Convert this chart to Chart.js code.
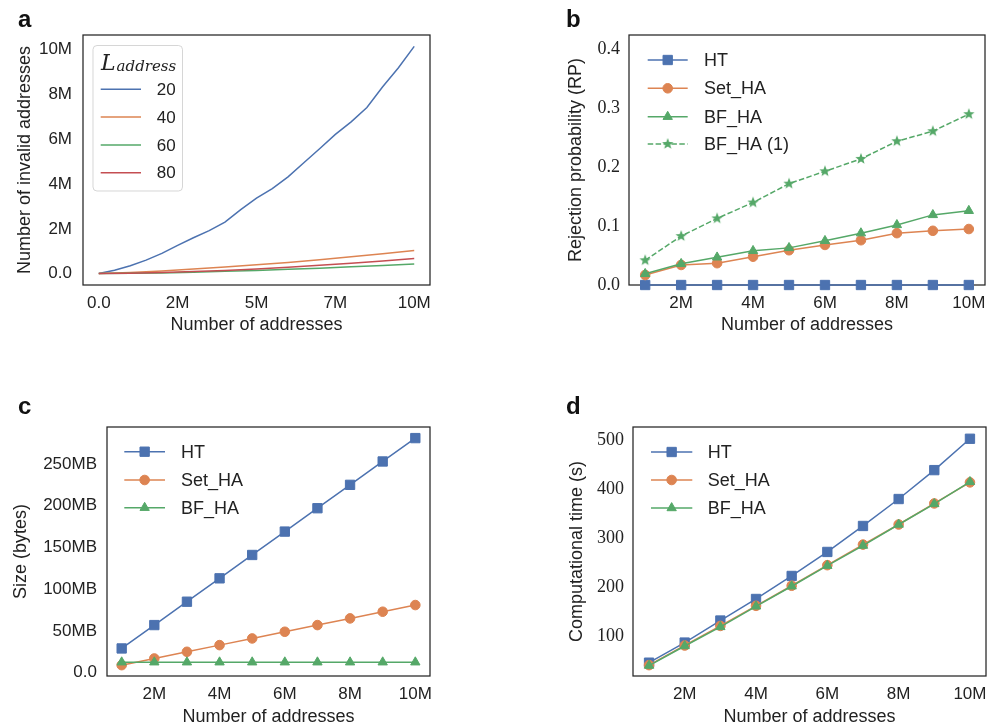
<!DOCTYPE html>
<html>
<head>
<meta charset="utf-8">
<script src="https://cdn.jsdelivr.net/npm/chart.js@4.4.1/dist/chart.umd.min.js"></script>
<style>
body { margin: 0; background: #fff; }
#wrap { position: relative; width: 998px; height: 728px; }
canvas { position: absolute; }
.tag { position: absolute; font: bold 24px "Liberation Sans", Arial, sans-serif; line-height: 24px; color: #111; }
</style>
</head>
<body>
<div id="wrap">
  <canvas id="pa" width="499" height="364" style="left:0;top:0"></canvas>
  <canvas id="pb" width="499" height="364" style="left:499px;top:0"></canvas>
  <canvas id="pc" width="499" height="364" style="left:0;top:364px"></canvas>
  <canvas id="pd" width="499" height="364" style="left:499px;top:364px"></canvas>
  <div class="tag" style="left:18px;top:7px">a</div>
  <div class="tag" style="left:566px;top:7px">b</div>
  <div class="tag" style="left:18px;top:394px">c</div>
  <div class="tag" style="left:566px;top:394px">d</div>
</div>
<script>
// panel a: invalid addresses (millions) vs number of addresses (millions)
var aX20 = [0, 0.5, 1, 1.5, 2, 2.5, 3, 3.5, 4, 4.5, 5, 5.5, 6, 6.5, 7, 7.5, 8, 8.5, 9, 9.5, 10];
var aL20 = [0, 0.15, 0.35, 0.6, 0.9, 1.26, 1.6, 1.92, 2.3, 2.86, 3.37, 3.8, 4.32, 4.95, 5.58, 6.22, 6.78, 7.42, 8.35, 9.2, 10.15];
var aX = [0, 1, 2, 3, 4, 5, 6, 7, 8, 9, 10];
var aL40 = [0, 0.05, 0.12, 0.2, 0.29, 0.39, 0.5, 0.62, 0.75, 0.89, 1.03];
var aL60 = [0, 0.01, 0.03, 0.06, 0.1, 0.14, 0.19, 0.24, 0.3, 0.36, 0.43];
var aL80 = [0, 0.02, 0.05, 0.09, 0.14, 0.21, 0.28, 0.37, 0.46, 0.56, 0.67];

// panels b-d share the x values (millions of addresses)
var addrM = [1, 2, 3, 4, 5, 6, 7, 8, 9, 10];

// panel b: rejection probability
var rpHT  = [0, 0, 0, 0, 0, 0, 0, 0, 0, 0];
var rpSet = [0.017, 0.034, 0.037, 0.048, 0.059, 0.068, 0.076, 0.088, 0.092, 0.095];
var rpBF  = [0.019, 0.036, 0.047, 0.058, 0.063, 0.075, 0.088, 0.102, 0.119, 0.126];
var rpBF1 = [0.042, 0.083, 0.113, 0.140, 0.172, 0.193, 0.214, 0.244, 0.261, 0.290];

// panel c: size in MB
var sizeHT  = [29, 57, 85, 113, 141, 169, 197, 225, 253, 281];
var sizeSet = [9, 17, 25, 33, 41, 49, 57, 65, 73, 81];
var sizeBF  = [12.5, 12.5, 12.5, 12.5, 12.5, 12.5, 12.5, 12.5, 12.5, 12.5];

// panel d: computational time in seconds
var timeHT  = [47, 88, 133, 177, 224, 273, 326, 381, 440, 504];
var timeSet = [42, 82, 122, 163, 204, 246, 288, 329, 372, 415];
var timeBF  = [41, 81, 120, 162, 203, 245, 286, 329, 371, 416];

var BLUE = '#4C72B0', ORANGE = '#DD8452', GREEN = '#55A868', RED = '#C44E52';
var INK = '#222222';
var SANS = '"Liberation Sans", Arial, sans-serif';
var SERIF = '"Liberation Serif", "Times New Roman", serif';

function pts(xs, ys) {
    return xs.map(function (x, i) { return {x: x, y: ys[i]}; });
}

function starImage(color, r) {
    var c = document.createElement('canvas');
    var s = Math.ceil(r * 2 + 2);
    c.width = c.height = s;
    var g = c.getContext('2d');
    g.fillStyle = color;
    g.beginPath();
    for (var k = 0; k < 10; k++) {
        var rr = k % 2 ? r * 0.42 : r;
        var ang = -Math.PI / 2 + k * Math.PI / 5;
        g.lineTo(s / 2 + rr * Math.cos(ang), s / 2 + rr * Math.sin(ang));
    }
    g.closePath();
    g.fill();
    return c;
}

var seriesCount = 0;
function series(label, xs, ys, color, marker, extra) {
    var ds = {
        label: label,
        data: pts(xs, ys),
        borderColor: color,
        backgroundColor: color,
        borderWidth: 1.5,
        pointRadius: 0,
        pointBorderWidth: 1,
        tension: 0,
        clip: false,
        order: -(seriesCount++) // later series on top, as in matplotlib
    };
    if (marker === 'rect') { ds.pointStyle = 'rect'; ds.pointRadius = 6.6; }
    if (marker === 'circle') { ds.pointStyle = 'circle'; ds.pointRadius = 4.8; }
    if (marker === 'triangle') { ds.pointStyle = 'triangle'; ds.pointRadius = 5.4; }
    if (marker === 'star') { ds.pointStyle = starImage(color, 6); ds.pointRadius = 6; }
    return Object.assign(ds, extra || {});
}

// box around the whole axes, like matplotlib spines
var framePlugin = {
    id: 'frame',
    beforeDatasetsDraw: function (chart) {
        var a = chart.chartArea, ctx = chart.ctx;
        ctx.save();
        ctx.strokeStyle = '#262626';
        ctx.lineWidth = 1.25;
        ctx.strokeRect(a.left, a.top, a.right - a.left, a.bottom - a.top);
        ctx.restore();
    }
};

var legendPlugin = {
    id: 'boxLegend',
    afterDraw: function (chart, args, o) {
        var ctx = chart.ctx;
        ctx.save();
        if (o.frame) {
            var f = o.frame;
            ctx.beginPath();
            ctx.roundRect(f[0], f[1], f[2] - f[0], f[3] - f[1], 4);
            ctx.fillStyle = 'rgba(255,255,255,0.8)';
            ctx.fill();
            ctx.strokeStyle = 'rgba(204,204,204,0.8)';
            ctx.lineWidth = 1;
            ctx.stroke();
        }
        if (o.title) {
            ctx.fillStyle = INK;
            ctx.textBaseline = 'alphabetic';
            ctx.font = 'italic 22px "DejaVu Serif", serif';
            ctx.fillText(o.title.main, o.title.x, o.title.y);
            var w = ctx.measureText(o.title.main).width;
            ctx.font = 'italic 15px "DejaVu Serif", serif';
            ctx.fillText(o.title.sub, o.title.x + w + 1, o.title.y + 1);
        }
        chart.data.datasets.forEach(function (ds, i) {
            var y = o.ys[i];
            ctx.strokeStyle = ds.borderColor;
            ctx.lineWidth = ds.borderWidth;
            ctx.setLineDash(ds.borderDash || []);
            ctx.beginPath();
            ctx.moveTo(o.x0, y);
            ctx.lineTo(o.x1, y);
            ctx.stroke();
            ctx.setLineDash([]);
            if (ds.pointRadius) {
                ctx.fillStyle = ds.backgroundColor;
                ctx.lineWidth = 1;
                Chart.helpers.drawPoint(ctx, {pointStyle: ds.pointStyle, radius: ds.pointRadius, rotation: 0, borderWidth: 1}, (o.x0 + o.x1) / 2, y);
            }
            ctx.fillStyle = INK;
            ctx.font = o.size + 'px ' + SANS;
            ctx.textBaseline = 'middle';
            ctx.fillText(ds.label, o.tx, y + 1);
        });
        ctx.restore();
    }
};

function makeChart(id, c) {
    var el = document.getElementById(id);
    var W = el.width, H = el.height;
    return new Chart(el, {
        type: 'line',
        data: {datasets: c.datasets},
        options: {
            responsive: false,
            animation: false,
            devicePixelRatio: 1,
            layout: {autoPadding: false, padding: {left: 0, top: c.area[1], right: W - c.area[2], bottom: 0}},
            plugins: {legend: {display: false}, tooltip: {enabled: false}, boxLegend: c.legend},
            scales: {
                x: {
                    type: 'linear', min: c.x[0], max: c.x[1],
                    grid: {display: false, drawTicks: false}, border: {display: false},
                    afterFit: function (s) { s.height = H - c.area[3]; },
                    afterBuildTicks: function (s) { s.ticks = c.xTicks.map(function (v) { return {value: v}; }); },
                    ticks: {padding: 8, color: INK, font: {family: SANS, size: 17}, maxRotation: 0, autoSkip: false, callback: c.xFmt},
                    title: {display: true, text: 'Number of addresses', color: INK, font: {family: SANS, size: 18}, padding: {top: 0, bottom: c.xTitlePad}}
                },
                y: {
                    type: 'linear', min: c.y[0], max: c.y[1],
                    grid: {display: false, drawTicks: false}, border: {display: false},
                    afterFit: function (s) { s.width = c.area[0]; },
                    afterBuildTicks: function (s) { s.ticks = c.yTicks.map(function (v) { return {value: v}; }); },
                    ticks: {padding: c.yTickPad, color: INK, font: c.yFont, autoSkip: false, callback: c.yFmt},
                    title: {display: true, text: c.yTitle, color: INK, font: {family: SANS, size: 18}, padding: {top: c.yTitlePad, bottom: 0}}
                }
            }
        },
        plugins: [framePlugin, legendPlugin]
    });
}

function fmtM(v) { return v === 0 ? '0.0' : Math.floor(v) + 'M'; }

seriesCount = 0;
makeChart('pa', {
    area: [83, 35, 430, 285],
    x: [-0.5, 10.5], xTicks: [0, 2.5, 5, 7.5, 10], xFmt: fmtM, xTitlePad: 28,
    y: [-0.51, 10.66], yTicks: [0, 2, 4, 6, 8, 10], yFmt: fmtM,
    yFont: {family: SANS, size: 17}, yTickPad: 11, yTitle: 'Number of invalid addresses', yTitlePad: 14,
    datasets: [
        series('20', aX20, aL20, BLUE),
        series('40', aX, aL40, ORANGE),
        series('60', aX, aL60, GREEN),
        series('80', aX, aL80, RED)
    ],
    legend: {x0: 100.7, x1: 141, tx: 156.7, ys: [89.3, 117, 145, 172.7], size: 17,
             frame: [93, 45.5, 182.5, 191], title: {main: 'L', sub: 'address', x: 101, y: 70}}
});

seriesCount = 0;
makeChart('pb', {
    area: [130, 35, 486, 285],
    x: [0.55, 10.45], xTicks: [2, 4, 6, 8, 10], xFmt: fmtM, xTitlePad: 28,
    y: [0, 0.4243], yTicks: [0, 0.1, 0.2, 0.3, 0.4], yFmt: function (v) { return v.toFixed(1); },
    yFont: {family: SERIF, size: 18}, yTickPad: 9, yTitle: 'Rejection probability (RP)', yTitlePad: 66,
    datasets: [
        series('HT', addrM, rpHT, BLUE, 'rect'),
        series('Set_HA', addrM, rpSet, ORANGE, 'circle'),
        series('BF_HA', addrM, rpBF, GREEN, 'triangle'),
        series('BF_HA (1)', addrM, rpBF1, GREEN, 'star', {borderDash: [5.5, 2.4]})
    ],
    legend: {x0: 148.7, x1: 188.7, tx: 205, ys: [60, 88.3, 116.7, 144], size: 18}
});

seriesCount = 0;
makeChart('pc', {
    area: [107, 63, 430, 312],
    x: [0.55, 10.45], xTicks: [2, 4, 6, 8, 10], xFmt: fmtM, xTitlePad: 0.5,
    y: [-4, 294.3], yTicks: [0, 50, 100, 150, 200, 250], yFmt: function (v) { return v === 0 ? '0.0' : v + 'MB'; },
    yFont: {family: SANS, size: 17}, yTickPad: 10, yTitle: 'Size (bytes)', yTitlePad: 10,
    datasets: [
        series('HT', addrM, sizeHT, BLUE, 'rect'),
        series('Set_HA', addrM, sizeSet, ORANGE, 'circle'),
        series('BF_HA', addrM, sizeBF, GREEN, 'triangle')
    ],
    legend: {x0: 124.3, x1: 165, tx: 181, ys: [87.7, 116, 143.7], size: 18}
});

seriesCount = 0;
makeChart('pd', {
    area: [134, 63, 487, 312],
    x: [0.55, 10.45], xTicks: [2, 4, 6, 8, 10], xFmt: fmtM, xTitlePad: 0.5,
    y: [19.8, 528], yTicks: [100, 200, 300, 400, 500], yFmt: function (v) { return String(v); },
    yFont: {family: SERIF, size: 18}, yTickPad: 9, yTitle: 'Computational time (s)', yTitlePad: 67,
    datasets: [
        series('HT', addrM, timeHT, BLUE, 'rect'),
        series('Set_HA', addrM, timeSet, ORANGE, 'circle'),
        series('BF_HA', addrM, timeBF, GREEN, 'triangle')
    ],
    legend: {x0: 152, x1: 193.3, tx: 208.7, ys: [88, 116, 144], size: 18}
});
</script>
</body>
</html>
